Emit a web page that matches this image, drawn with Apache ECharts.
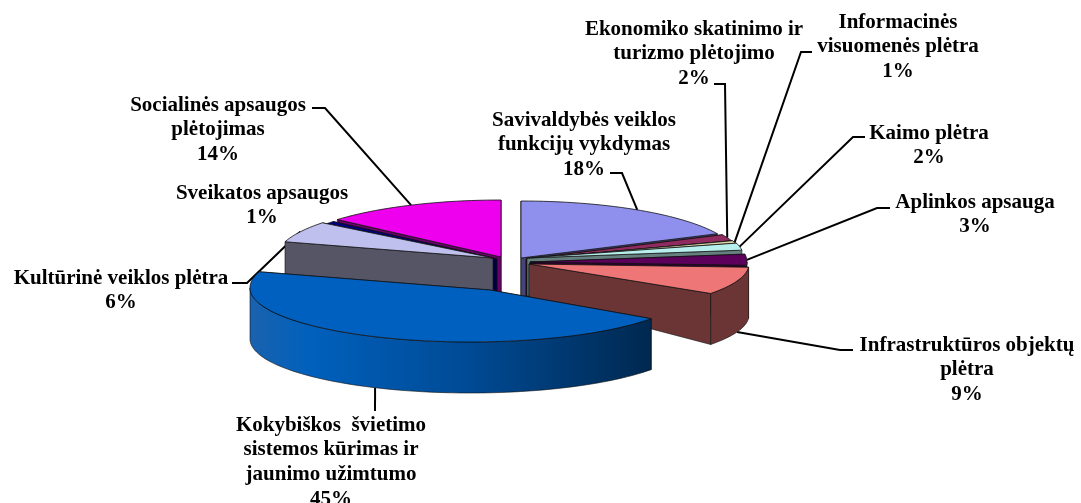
<!DOCTYPE html>
<html><head><meta charset="utf-8">
<style>html,body{margin:0;padding:0;background:#fff}#c{width:1081px;height:503px}</style>
<script src="https://cdn.jsdelivr.net/npm/echarts@6/dist/echarts.min.js"></script>
</head><body><div id="c"></div>
<script>
// ---- data ----
const categories = ["Savivaldybės veiklos\nfunkcijų vykdymas","Ekonomiko skatinimo ir\nturizmo plėtojimo","Informacinės\nvisuomenės plėtra","Kaimo plėtra","Aplinkos apsauga","Infrastruktūros objektų\nplėtra","Kokybiškos  švietimo\nsistemos kūrimas ir\njaunimo užimtumo","Kultūrinė veiklos plėtra","Sveikatos apsaugos","Socialinės apsaugos\nplėtojimas"];
const shares = [18.0,1.8,1.0,2.0,3.2,8.6,45.0,6.0,0.8,13.6];
// ---- styles ----
const topColors  = ["#8f8fee","#8f2b5e","#ddd8aa","#b8f0ee","#5c005c","#ee7676","#0060c0","#c0c0ee","#000080","#ee00ee"];
const sideColors = ["#45457a","#4d1a33","#807f66","#667f7f","#330033","#6b3535","#004a94","#555566","#000040","#6a006a"];
// ---- layout: exploded arc centres, apexes ----
const arcX  = [521,526,527,527,530,532,470,493,497,501];
const arcY  = [258,259,259,258,262,264,288,258,259,257];
const apexX = [521,526,527,527,530,529,490,493,497,501];
const apexY = [258,259,259,258,262,264,290,258,259,257];
const apexDepth = [40,38,38,38,36,33,40,40,40,40];
const sliceRX = [217,217,217,217,217,217,220,217,217,217];
const sliceRYFront = [52,52,52,52,52,52,54,52,52,52];
const RY_BACK=57, DEPTH=51;
const paintOrder=[9,8,7,0,1,2,3,4,5,6];
const labelCX=[584,694,898,929,975,967,331,121,262,218];
const labelTop=[108,17,10,121,190,333,413,266,181,93];
const LINE_HEIGHT=24.7;
const elbows=[[[610,173],[622,173]],[[714,84],[725,84]],[[812,52],[801,52]],[[865,137],[853,137]],[[890,208],[877,208]],[[853,350],[840,350]],[[375,411]],[[232,283],[247,283]],null,[[312,108],[325,108]]];

const total=shares.reduce((a,b)=>a+b,0);
const cum=[];shares.reduce((a,b,i)=>(cum[i]=a,a+b),0);
const rad=d=>d*Math.PI/180;
function pt(i,deg,drop){const a=rad(deg),c=Math.cos(a);
  return [arcX[i]+sliceRX[i]*Math.sin(a),arcY[i]-(c>0?RY_BACK:sliceRYFront[i])*c+(drop||0)];}
function arc(i,a,b,drop){const n=Math.max(2,Math.ceil((b-a)/2)),o=[];
  for(let k=0;k<=n;k++)o.push(pt(i,a+(b-a)*k/n,drop));return o;}
function renderSlice(params,api){
  const i=params.dataIndex,v=api.value(0);
  const a1=cum[i]/total*360,a2=a1+v/total*360;
  const z=paintOrder.indexOf(i)*10;
  const ax=apexX[i],ay=apexY[i],d=apexDepth[i];
  const kids=[];
  const side=sideColors[i];
  const face=(ang)=>{const p=pt(i,ang),q=pt(i,ang,DEPTH);
    return {type:'polygon',z2:z,shape:{points:[[ax,ay],p,q,[ax,ay+d]]},style:{fill:side,stroke:'#111',lineWidth:0.6}};};
  // the face further back is painted first
  [a1,a2].sort((p,q)=>Math.cos(rad(q))-Math.cos(rad(p))).forEach(x=>kids.push(face(x)));
  const w1=Math.max(a1,90),w2=Math.min(a2,270);
  if(w2>w1){
    const fill=i===6?{type:'linear',x:1,y:0,x2:0,y2:0,colorStops:[{offset:0,color:'#002850'},{offset:0.45,color:'#004a94'},{offset:0.85,color:'#0060bc'},{offset:1,color:'#1a62ae'}]}:side;
    kids.push({type:'polygon',z2:z+1,shape:{points:arc(i,w1,w2,0).concat(arc(i,w1,w2,DEPTH).reverse())},style:{fill:fill,stroke:'#111',lineWidth:0.6}});
  }
  kids.push({type:'polygon',z2:z+2,shape:{points:[[ax,ay]].concat(arc(i,a1,a2,0))},style:{fill:topColors[i],stroke:'#111',lineWidth:0.8}});
  return {type:'group',children:kids};
}
function renderLabel(params,api){
  const i=params.dataIndex,v=api.value(0);
  const kids=[{type:'text',z2:200,style:{text:categories[i]+'\n'+Math.round(v/total*100)+'%',x:labelCX[i],y:labelTop[i],align:'center',verticalAlign:'top',fontFamily:'"Liberation Serif"',fontWeight:'bold',fontSize:21,lineHeight:LINE_HEIGHT,fill:'#000'}}];
  if(elbows[i]){
    const mid=(cum[i]+v/2)/total*360;
    const front=mid>90&&mid<270;
    const end=pt(i,mid,front?DEPTH:0);
    kids.push({type:'polyline',z2:150,shape:{points:elbows[i].concat([end])},style:{fill:'none',stroke:'#000',lineWidth:2}});
  }
  return {type:'group',children:kids};
}
const chart=echarts.init(document.getElementById('c'),null,{renderer:'canvas'});
chart.setOption({animation:false,backgroundColor:'#fff',
 series:[
  {type:'custom',coordinateSystem:'none',silent:true,data:shares.map(v=>[v]),renderItem:renderSlice,z:3},
  {type:'custom',coordinateSystem:'none',silent:true,data:shares.map(v=>[v]),renderItem:renderLabel,z:2}
 ]});
</script></body></html>
